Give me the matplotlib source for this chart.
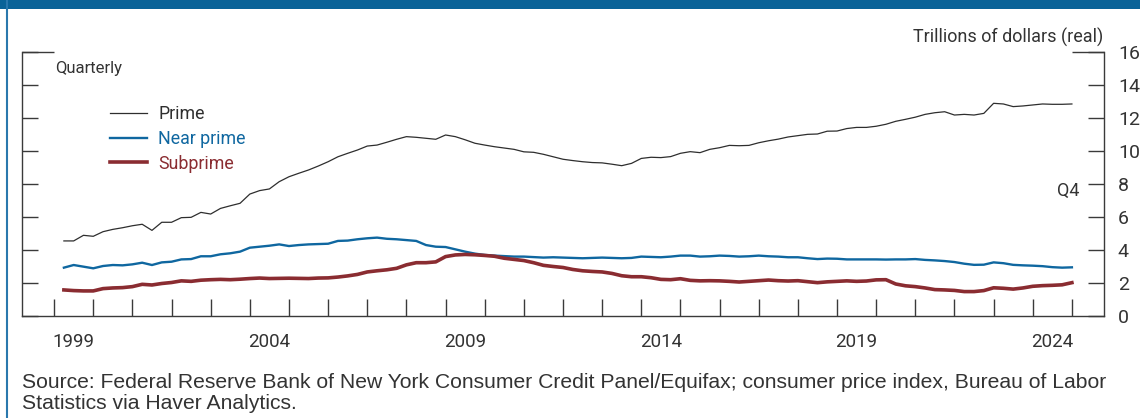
#!/usr/bin/env python3
"""
Outstanding consumer debt (real, trillions of dollars) by borrower credit tier,
quarterly 1999Q1-2024Q4.
"""

import matplotlib
matplotlib.use("Agg")
import matplotlib.pyplot as plt
import numpy as np
import pandas as pd
from matplotlib.lines import Line2D
from matplotlib.patches import Rectangle

QUARTERS = pd.period_range("1999Q1", "2024Q4", freq="Q")

PRIME = [
    4.55, 4.55, 4.89, 4.83, 5.11, 5.25, 5.35, 5.47, 5.56, 5.19,
    5.68, 5.68, 5.96, 5.98, 6.28, 6.18, 6.52, 6.68, 6.83, 7.39,
    7.60, 7.70, 8.14, 8.44, 8.65, 8.85, 9.09, 9.35, 9.65, 9.86,
    10.06, 10.30, 10.36, 10.53, 10.71, 10.87, 10.83, 10.77, 10.71, 10.97,
    10.87, 10.68, 10.47, 10.36, 10.26, 10.18, 10.10, 9.95, 9.92, 9.80,
    9.65, 9.50, 9.42, 9.35, 9.30, 9.28, 9.20, 9.11, 9.25, 9.55,
    9.62, 9.60, 9.66, 9.86, 9.96, 9.90, 10.10, 10.20, 10.34, 10.32,
    10.34, 10.50, 10.62, 10.72, 10.85, 10.93, 11.01, 11.03, 11.20, 11.21,
    11.36, 11.43, 11.43, 11.50, 11.62, 11.80, 11.92, 12.05, 12.22, 12.32,
    12.38, 12.18, 12.22, 12.18, 12.28, 12.89, 12.85, 12.69, 12.73, 12.79,
    12.85, 12.83, 12.83, 12.85,
]

NEAR_PRIME = [
    2.93, 3.09, 2.99, 2.89, 3.03, 3.09, 3.07, 3.13, 3.23, 3.09,
    3.25, 3.29, 3.43, 3.45, 3.62, 3.62, 3.74, 3.80, 3.90, 4.14,
    4.20, 4.26, 4.34, 4.24, 4.30, 4.34, 4.36, 4.38, 4.55, 4.57,
    4.65, 4.71, 4.75, 4.68, 4.65, 4.60, 4.55, 4.30, 4.20, 4.18,
    4.04, 3.90, 3.78, 3.70, 3.66, 3.63, 3.60, 3.60, 3.57, 3.54,
    3.56, 3.54, 3.52, 3.50, 3.52, 3.54, 3.52, 3.50, 3.52, 3.60,
    3.58, 3.56, 3.60, 3.66, 3.66, 3.60, 3.62, 3.66, 3.64, 3.60,
    3.62, 3.66, 3.62, 3.60, 3.56, 3.56, 3.50, 3.45, 3.48, 3.47,
    3.43, 3.43, 3.43, 3.43, 3.42, 3.43, 3.43, 3.45, 3.40, 3.37,
    3.33, 3.27, 3.17, 3.10, 3.11, 3.25, 3.20, 3.10, 3.07, 3.05,
    3.02, 2.96, 2.93, 2.95,
]

SUBPRIME = [
    1.58, 1.54, 1.52, 1.52, 1.66, 1.70, 1.72, 1.78, 1.92, 1.88,
    1.97, 2.03, 2.13, 2.10, 2.17, 2.20, 2.22, 2.20, 2.23, 2.27,
    2.30, 2.27, 2.28, 2.29, 2.28, 2.27, 2.30, 2.31, 2.36, 2.43,
    2.52, 2.67, 2.74, 2.80, 2.89, 3.10, 3.23, 3.23, 3.28, 3.60,
    3.70, 3.73, 3.71, 3.67, 3.62, 3.50, 3.43, 3.36, 3.23, 3.07,
    3.00, 2.94, 2.82, 2.74, 2.70, 2.67, 2.58, 2.44, 2.38, 2.38,
    2.32, 2.22, 2.20, 2.26, 2.16, 2.13, 2.14, 2.13, 2.10, 2.06,
    2.10, 2.14, 2.18, 2.14, 2.12, 2.14, 2.08, 2.02, 2.07, 2.10,
    2.13, 2.10, 2.12, 2.19, 2.20, 1.94, 1.83, 1.78, 1.70, 1.60,
    1.58, 1.55, 1.48, 1.48, 1.54, 1.71, 1.68, 1.63, 1.70, 1.80,
    1.84, 1.86, 1.89, 2.02,
]

YEAR_TICKS   = list(range(1999, 2026))
YEAR_LABELS  = [1999, 2004, 2009, 2014, 2019, 2024]
Y_TICKS      = list(range(0, 17, 2))

PRIME_COLOR  = "#2e2e2e"
NEAR_COLOR   = "#0f67a0"
SUB_COLOR    = "#8a2c31"
FRAME_COLOR  = "#0a6398"
AXIS_COLOR   = "#3a3a3a"
TEXT_COLOR   = "#333333"

NARROW = ["Roboto", "DejaVu Sans"]

W, H = 1140, 418


def main() -> None:
    plt.rcParams["font.family"] = NARROW

    # plot each quarter at the end of its quarter
    x = QUARTERS.year + QUARTERS.quarter / 4.0

    fig = plt.figure(figsize=(W / 100, H / 100), dpi=100)
    fig.patch.set_facecolor("white")

    # blue frame: bar along the top, rule down the left side
    fig.add_artist(Rectangle((0, 1 - 9 / H), 1, 9 / H, transform=fig.transFigure,
                             facecolor=FRAME_COLOR, edgecolor="none"))
    fig.add_artist(Line2D([7 / W, 7 / W], [0, 1], transform=fig.transFigure,
                          color="#2a78ad", linewidth=1.5))

    ax = fig.add_axes([22 / W, 102 / H, 1082 / W, 264 / H])
    ax.plot(x, PRIME, color=PRIME_COLOR, linewidth=0.9, label="Prime")
    ax.plot(x, NEAR_PRIME, color=NEAR_COLOR, linewidth=1.7, label="Near prime")
    ax.plot(x, SUBPRIME, color=SUB_COLOR, linewidth=2.6, label="Subprime")

    ax.set_xlim(1998.18, 2025.82)
    ax.set_ylim(0, 16)

    ax.spines["top"].set_visible(False)
    for side in ("left", "right", "bottom"):
        ax.spines[side].set_color(AXIS_COLOR)
        ax.spines[side].set_linewidth(1.0)

    # years: boundary ticks, labels centred in the year
    ax.set_xticks(YEAR_TICKS)
    ax.set_xticklabels([])
    ax.set_xticks([y + 0.5 for y in YEAR_LABELS], minor=True)
    ax.set_xticklabels([str(y) for y in YEAR_LABELS], minor=True)
    ax.tick_params(axis="x", which="major", direction="in", length=12,
                   width=1.0, color=AXIS_COLOR)
    ax.tick_params(axis="x", which="minor", length=0, pad=12.5,
                   labelsize=13.5, labelcolor=TEXT_COLOR)

    ax.set_yticks(Y_TICKS)
    ax.set_yticklabels([str(v) for v in Y_TICKS])
    ax.yaxis.remove_overlapping_locs = False
    ax.set_yticks([16], minor=True)
    ax.tick_params(axis="y", which="major", direction="in", length=11.5,
                   width=1.0, color=AXIS_COLOR, left=True, right=True,
                   labelleft=False, labelright=True, pad=10,
                   labelsize=14, labelcolor=TEXT_COLOR)
    ax.tick_params(axis="y", which="minor", direction="in", length=23,
                   width=1.0, color=AXIS_COLOR, left=True, right=True,
                   labelleft=False, labelright=False)

    def fx(px):
        return px / W

    def fy(py):
        return 1 - py / H

    fig.text(fx(55), fy(69), "Quarterly", ha="left", va="center",
             fontsize=12, color=TEXT_COLOR)
    fig.text(fx(1103), fy(37), "Trillions of dollars (real)", ha="right",
             va="center", fontsize=13, color=TEXT_COLOR)
    fig.text(fx(1080), fy(191), "Q4", ha="right", va="center",
             fontsize=13, color=TEXT_COLOR)

    ax.legend(loc="upper left", bbox_to_anchor=(fx(110), fy(105)),
              bbox_transform=fig.transFigure, frameon=False,
              borderpad=0, borderaxespad=0, handlelength=2.1,
              handletextpad=0.6, labelspacing=0.38, fontsize=12.8,
              labelcolor="linecolor")

    source = ("Source: Federal Reserve Bank of New York Consumer Credit Panel/Equifax; "
              "consumer price index, Bureau of Labor\nStatistics via Haver Analytics.")
    fig.text(fx(22), fy(393), source, ha="left", va="center", fontsize=15.2,
             family=["Liberation Sans", "DejaVu Sans"], color=TEXT_COLOR,
             linespacing=1.1)

    fig.savefig("out.png", dpi=100, facecolor=fig.get_facecolor())
    plt.close(fig)


if __name__ == "__main__":
    main()
